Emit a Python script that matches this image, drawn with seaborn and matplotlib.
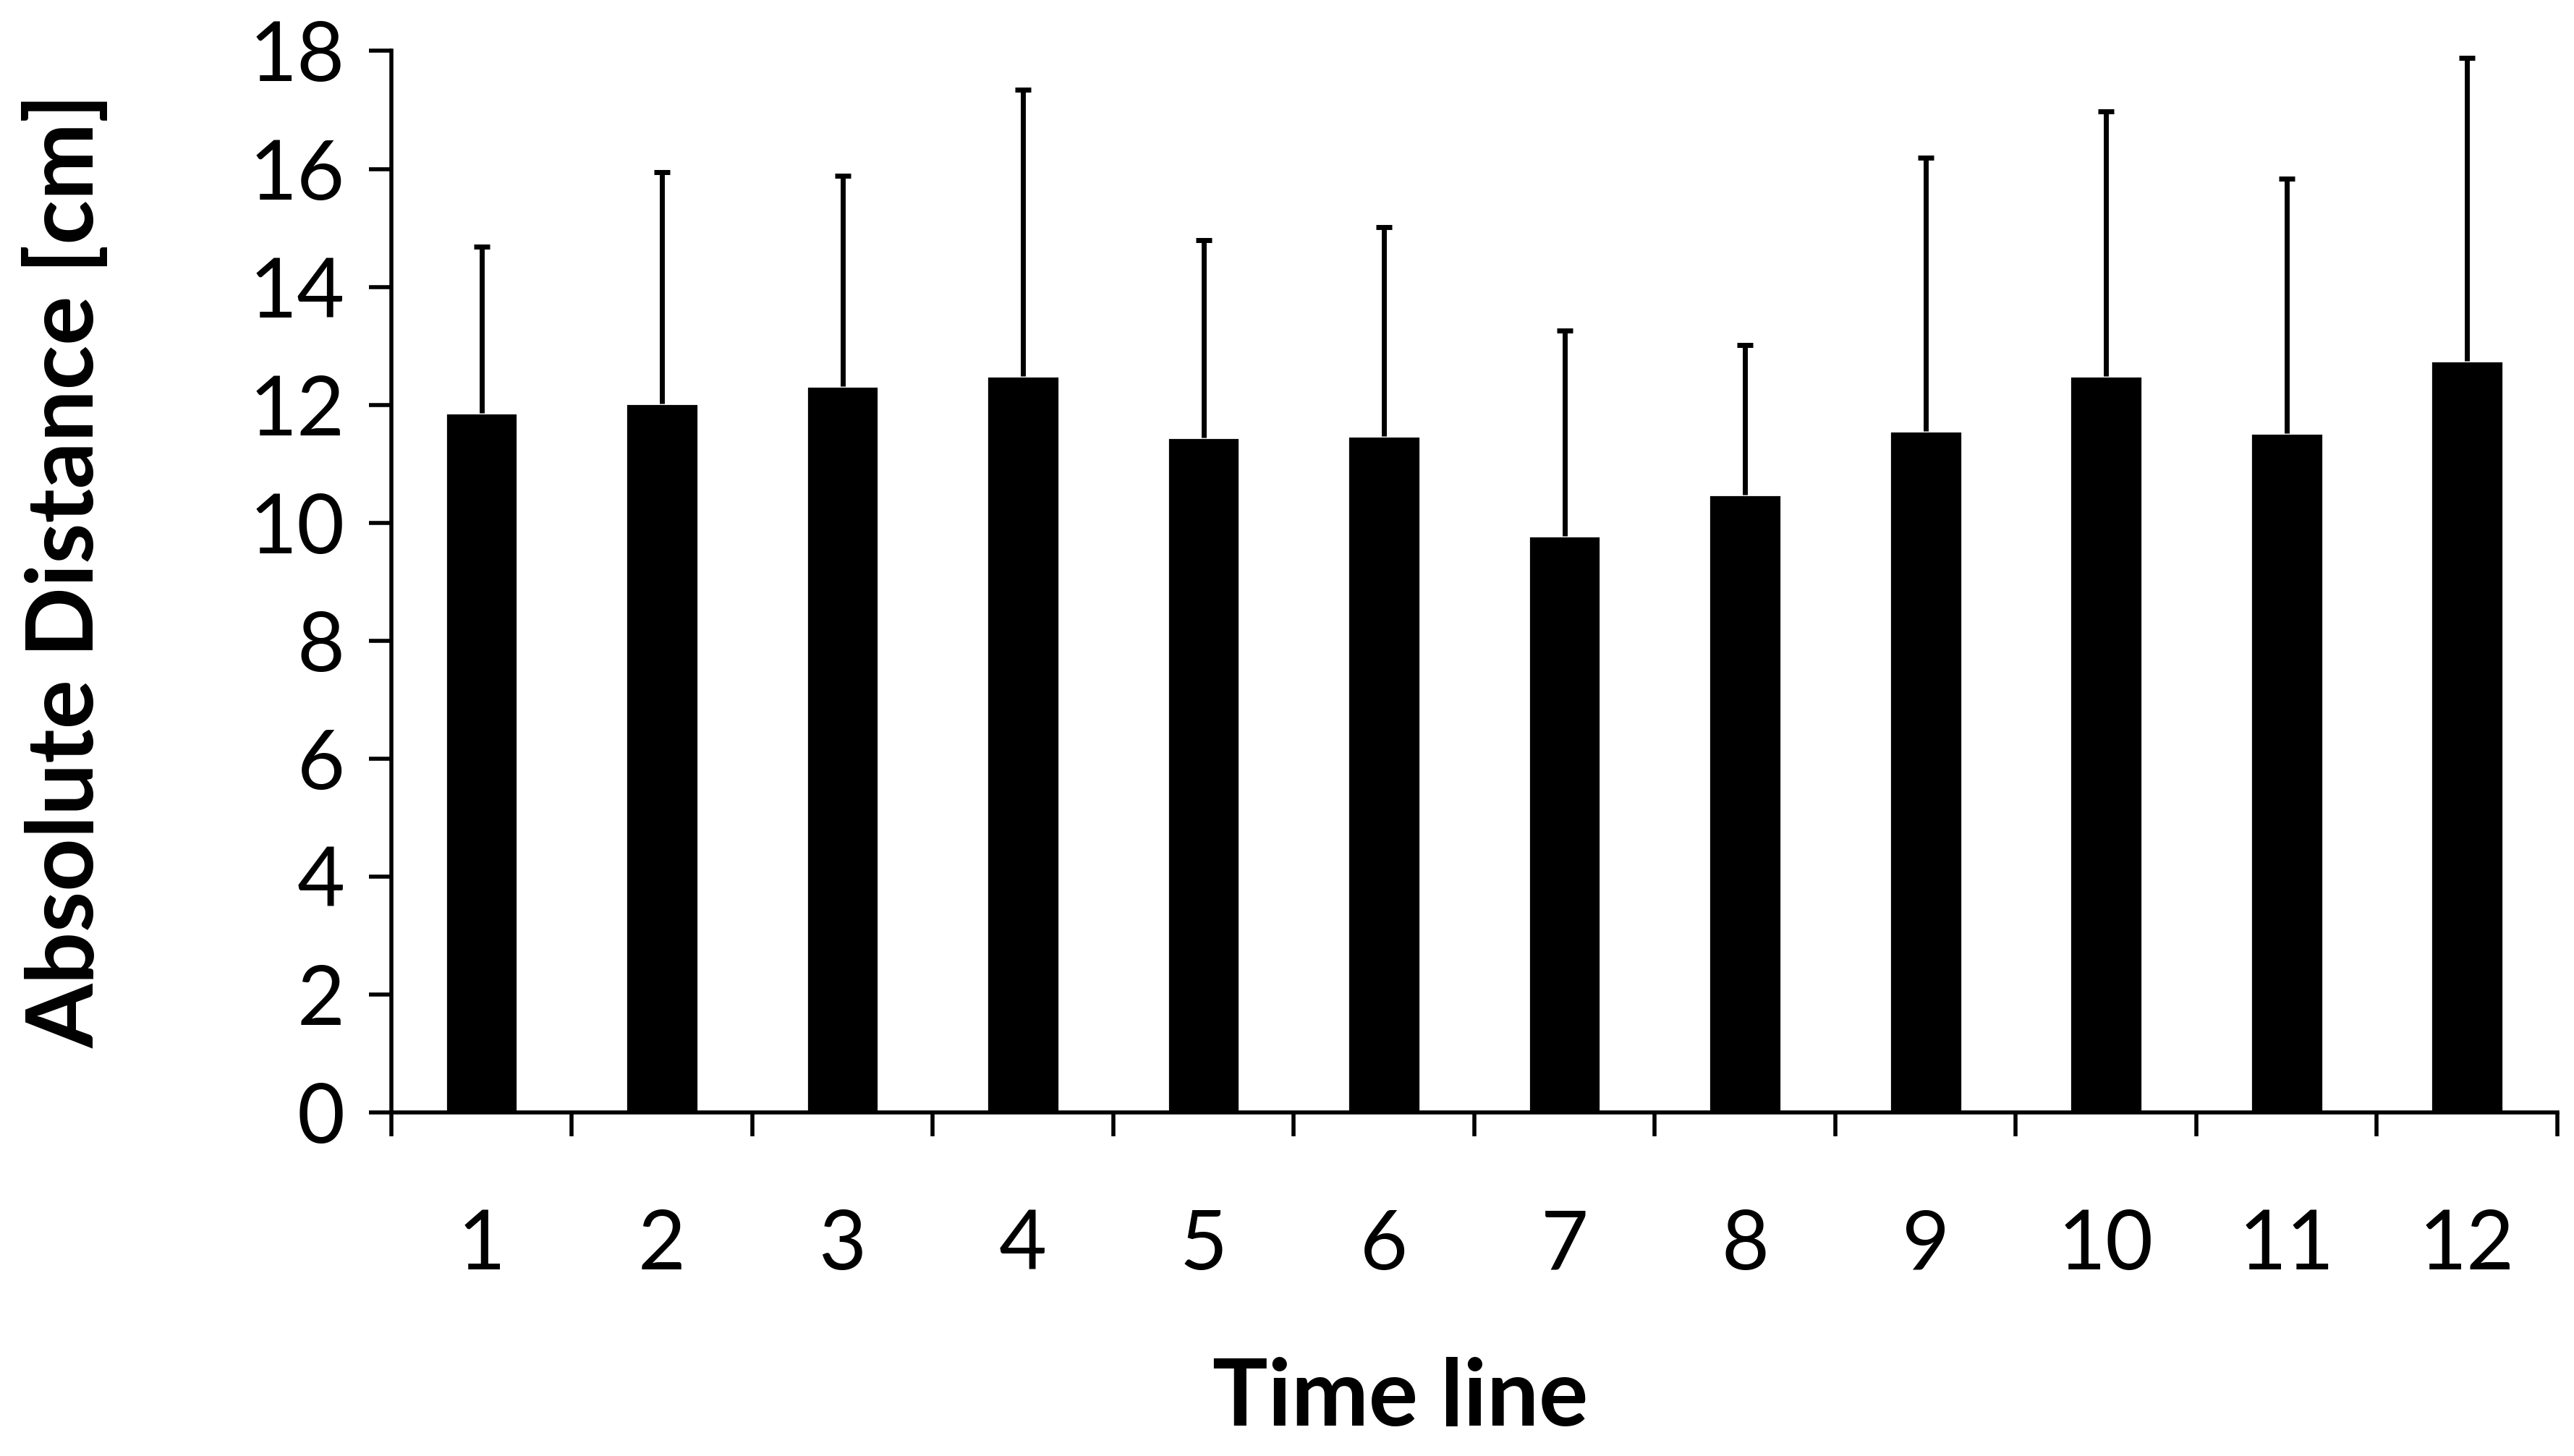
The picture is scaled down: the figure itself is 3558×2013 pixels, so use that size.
import matplotlib
matplotlib.use("Agg")
import matplotlib.pyplot as plt
from matplotlib import font_manager
from matplotlib.ticker import FixedLocator
import seaborn as sns
import pandas as pd

# ─── Data ─────────────────────────────────────────────────────────────
time_points = ["1", "2", "3", "4", "5", "6", "7", "8", "9", "10", "11", "12"]
mean_dist = [11.86, 12.02, 12.32, 12.48, 11.44, 11.47, 9.77, 10.47, 11.55, 12.49, 11.52, 12.74]
upper_err = [2.82, 3.92, 3.56, 4.86, 3.35, 3.54, 3.49, 2.54, 4.64, 4.49, 4.31, 5.14]

# ─── Style ────────────────────────────────────────────────────────────
sns.set_theme(style="ticks", rc={"text.color": "black", "axes.labelcolor": "black",
                                 "xtick.color": "black", "ytick.color": "black"})
installed = {f.name for f in font_manager.fontManager.ttflist}
family = [f for f in ["Liberation Sans Narrow", "DejaVu Sans Condensed", "Lato"] if f in installed]
plt.rcParams["font.family"] = family + ["DejaVu Sans"]

df = pd.DataFrame({"time": time_points, "dist": mean_dist})

fig = plt.figure(figsize=(17.79, 10.065), dpi=200)
ax = fig.add_axes([0.152, 0.236, 0.8415, 0.729])

sns.barplot(data=df, x="time", y="dist", color="black", width=0.4,
            saturation=1, ax=ax, errorbar=None)
_, caps, _ = ax.errorbar(range(len(time_points)), mean_dist,
                         yerr=[[0] * len(upper_err), upper_err],
                         fmt="none", ecolor="black", elinewidth=2.5,
                         capsize=4, capthick=2.5)
caps[0].set_visible(False)  # no cap on the bar top

ax.set_xlim(-0.5, len(time_points) - 0.5)
ax.set_ylim(0, 18)
ax.set_yticks(range(0, 19, 2))

# Excel-style: ticks between categories, labels centred on bars
ax.xaxis.set_minor_locator(FixedLocator([i - 0.5 for i in range(len(time_points) + 1)]))
ax.tick_params(axis="x", which="major", length=0, pad=48, labelsize=41, labelcolor="black")
ax.tick_params(axis="x", which="minor", length=12, width=2, direction="out", color="black")
ax.tick_params(axis="y", length=11, width=2, direction="out", pad=12, labelsize=41,
               color="black", labelcolor="black")

sns.despine(ax=ax)
for side in ["left", "bottom"]:
    ax.spines[side].set_linewidth(2)
    ax.spines[side].set_color("black")

ax.set_xlabel("Time line", fontsize=46, fontweight="bold", va="center", color="black")
ax.set_ylabel("Absolute Distance [cm]", fontsize=46, fontweight="bold", va="center", color="black")
ax.xaxis.set_label_coords(0.466, -0.27)
ax.yaxis.set_label_coords(-0.15, 0.51)

fig.savefig("out.png", dpi=200, facecolor="white")
